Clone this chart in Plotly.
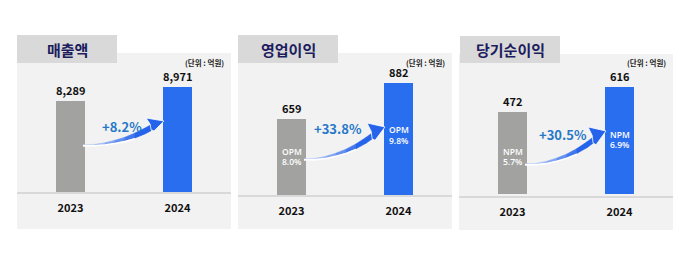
import plotly.graph_objects as go

# ---------------- data ----------------
years = ["2023", "2024"]
titles = ["매출액", "영업이익", "당기순이익"]
values_2023 = [8289, 659, 472]
values_2024 = [8971, 882, 616]
margin_names = [None, "OPM", "NPM"]
margin_2023 = [None, "8.0%", "5.7%"]
margin_2024 = [None, "9.8%", "6.9%"]
growth_labels = ["+8.2%", "+33.8%", "+30.5%"]
unit_label = "(단위 : 억원)"

# ---------------- style / layout ----------------
W, H = 691, 256
FONT = "Noto Sans CJK KR"
SMALL_FONT = "Open Sans"
GRAY = "#a2a2a0"
BLUE = "#2a6ef0"
PANEL_BG = "#f2f2f2"
TITLE_BG = "#d9d9d9"
TITLE_COLOR = "#1c1c5e"
GROWTH_COLOR = "#2678c8"

panel_left = [17, 238, 459]          # px
panel_right = [231, 452, 673]
panel_top = [53, 53, 54]
panel_bottom = [229, 229, 230]
title_box = [(17, 117, 35, 63), (238, 338, 35, 63), (460, 560, 36, 63)]
axis_bottom = [192, 195, 196]
axis_top = 60
y_ranges = [[3856, 10286], [188, 1024], [-12, 771]]
bar_width = 0.271
# arrow (start y, tip y) in px
arrow_y = [(145, 121), (159, 127), (164, 131)]
growth_pos = [(122, 126), (338, 128), (563, 134)]
ratio_y_2023 = [None, 156.5, 156.5]   # centre of the two-line block, px
ratio_y_2024 = [None, 135, 139.5]
RATIO_GAP = 5.3                        # half distance between the two lines, px


def px(x):
    return x / W


def py(y):
    return 1 - y / H


fig = go.Figure()
shapes = []
annotations = []

for i in range(3):
    sfx = "" if i == 0 else str(i + 1)
    xa, ya = "x" + sfx, "y" + sfx
    fig.add_trace(go.Bar(
        x=years, y=[values_2023[i], values_2024[i]],
        marker=dict(color=[GRAY, BLUE], line=dict(width=0)),
        width=bar_width, xaxis=xa, yaxis=ya, showlegend=False,
        hoverinfo="skip",
    ))
    fig.update_layout(**{
        "xaxis" + sfx: dict(
            domain=[px(panel_left[i]), px(panel_right[i])],
            anchor=ya, type="category", range=[-0.5, 1.5],
            showline=True, linecolor="#d9d9d9", linewidth=2,
            showgrid=False, zeroline=False, ticks="",
            tickfont=dict(family=FONT, size=11, color="#111", weight="bold"),
            ticklabelstandoff=5,
        ),
        "yaxis" + sfx: dict(
            domain=[py(axis_bottom[i]), py(axis_top)],
            anchor=xa, range=y_ranges[i], visible=False, fixedrange=True,
        ),
    })

    # panel background + title box
    shapes.append(dict(type="rect", xref="paper", yref="paper", layer="below",
                       x0=px(panel_left[i]), x1=px(panel_right[i]),
                       y0=py(panel_bottom[i]), y1=py(panel_top[i]),
                       fillcolor=PANEL_BG, line=dict(width=0)))
    tx0, tx1, ty0, ty1 = title_box[i]
    shapes.append(dict(type="rect", xref="paper", yref="paper", layer="below",
                       x0=px(tx0), x1=px(tx1), y0=py(ty1), y1=py(ty0),
                       fillcolor=TITLE_BG, line=dict(width=0)))
    annotations.append(dict(text=titles[i], xref="paper", yref="paper",
                            x=px((tx0 + tx1) / 2), y=py(49.5), showarrow=False,
                            xanchor="center", yanchor="middle",
                            font=dict(family=FONT, size=15, color=TITLE_COLOR, weight="bold")))
    annotations.append(dict(text=unit_label, xref="paper", yref="paper",
                            x=px(panel_right[i] - 5), y=py(62.5), showarrow=False,
                            xanchor="right", yanchor="middle",
                            font=dict(family=FONT, size=7.5, color="#222", weight="bold")))

    # value labels (category index positions)
    for j, v in enumerate([values_2023[i], values_2024[i]]):
        annotations.append(dict(text=f"{v:,}", xref=xa, yref=ya, x=j, y=v,
                                showarrow=False, xanchor="center", yanchor="bottom",
                                yshift=1,
                                font=dict(family=FONT, size=11, color="#111", weight="bold")))

    # margin labels inside bars (two separate lines)
    if margin_names[i]:
        for j, (lab, yy) in enumerate([(margin_2023[i], ratio_y_2023[i]),
                                       (margin_2024[i], ratio_y_2024[i])]):
            for txt, dy in ((margin_names[i], -RATIO_GAP), (lab, RATIO_GAP)):
                annotations.append(dict(text=txt, xref=xa, yref="paper",
                                        x=j, y=py(yy + dy), showarrow=False,
                                        xanchor="center", yanchor="middle",
                                        font=dict(family=SMALL_FONT, size=8.5,
                                                  color="white", weight=600)))

    # growth label
    gx, gy = growth_pos[i]
    annotations.append(dict(text=growth_labels[i], xref="paper", yref="paper",
                            x=px(gx), y=py(gy), showarrow=False,
                            xanchor="center", yanchor="middle",
                            font=dict(family=FONT, size=13, color=GROWTH_COLOR, weight="bold")))

    # ---------- curved arrow (decoration) ----------
    dom_w = panel_right[i] - panel_left[i]
    gray_right = panel_left[i] + dom_w * 0.25 + dom_w / 2 * bar_width / 2
    blue_left = panel_left[i] + dom_w * 0.75 - dom_w / 2 * bar_width / 2
    Sx, Tx = gray_right - 2, blue_left + 1
    Sy, Ty = arrow_y[i]

    def P(u, v, off=0.0):
        return (Sx + u * (Tx - Sx), Sy - v * (Sy - Ty) + off)

    us = [0, .148, .272, .395, .519, .642, .765, .84]
    vs = [0, .015, .0625, .146, .25, .396, .583, .72]
    ht = [0.1, .3, .7, 1.2, 1.8, 2.4, 2.9, 3.0]
    top = [P(u, v, -h) for u, v, h in zip(us, vs, ht)]
    bot = [P(u, v, h) for u, v, h in zip(us, vs, ht)]
    c0 = (215, 226, 250)
    c1 = (37, 99, 235)
    for k in range(len(us) - 1):
        t = min(1.0, (us[k] + us[k + 1]) / 2 / 0.7)
        col = tuple(int(c0[m] + (c1[m] - c0[m]) * t) for m in range(3))
        pts = [top[k], top[k + 1], bot[k + 1], bot[k]]
        path = "M " + " L ".join(f"{px(a):.5f},{py(b):.5f}" for a, b in pts) + " Z"
        shapes.append(dict(type="path", xref="paper", yref="paper", path=path,
                           fillcolor=f"rgb{col}", line=dict(width=0.6, color=f"rgb{col}")))
    head = [P(.83, .86), P(.778, 1.125), P(1, 1), P(.877, .583), P(.84, .64)]
    path = "M " + " L ".join(f"{px(a):.5f},{py(b):.5f}" for a, b in head) + " Z"
    shapes.append(dict(type="path", xref="paper", yref="paper", path=path,
                       fillcolor="rgb(37,99,235)", line=dict(width=0.8, color="white")))
    # white highlight along lower edge
    wl = bot[:6]
    path = "M " + " L ".join(f"{px(a):.5f},{py(b + 0.8):.5f}" for a, b in wl)
    shapes.append(dict(type="path", xref="paper", yref="paper", path=path,
                       line=dict(width=1.6, color="white")))

fig.update_layout(
    width=W, height=H, margin=dict(l=0, r=0, t=0, b=0),
    paper_bgcolor="white", plot_bgcolor="rgba(0,0,0,0)",
    shapes=shapes, annotations=annotations, bargap=0,
    font=dict(family=FONT),
)

fig.write_html("out.html", config={"displayModeBar": False})
